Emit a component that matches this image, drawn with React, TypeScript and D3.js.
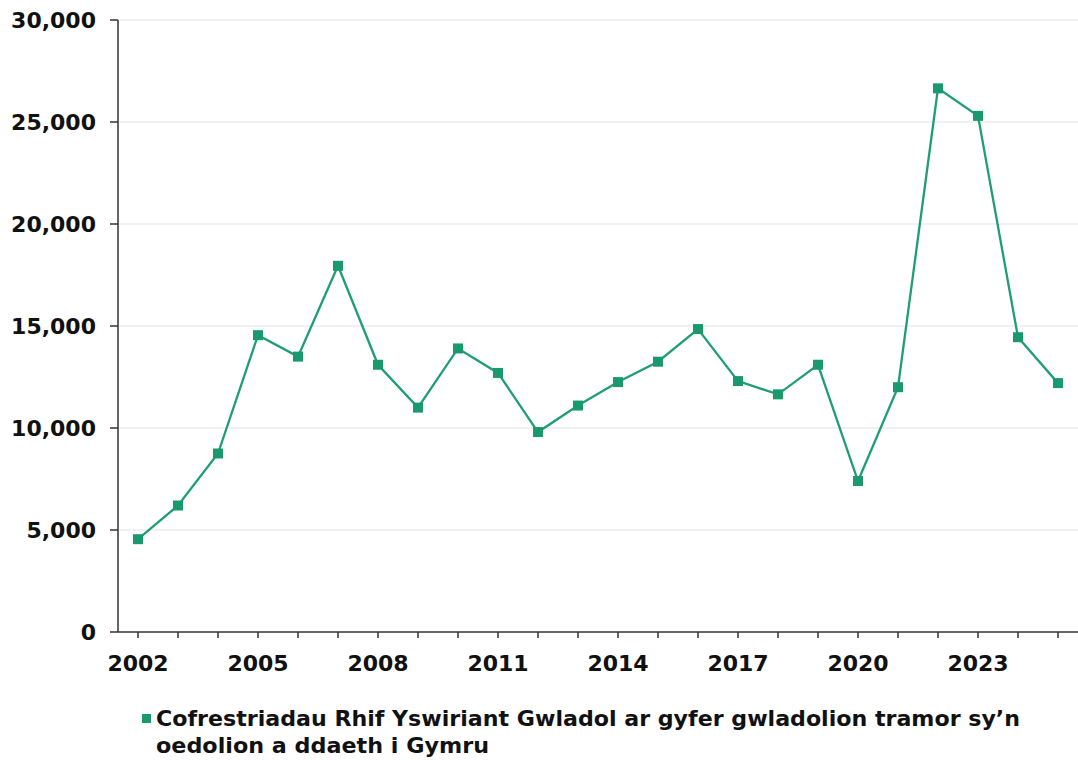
import React from "react";
import * as d3 from "d3";

const years = [
  2002, 2003, 2004, 2005, 2006, 2007, 2008, 2009, 2010, 2011, 2012, 2013,
  2014, 2015, 2016, 2017, 2018, 2019, 2020, 2021, 2022, 2023, 2024, 2025,
];
const registrations = [
  4550, 6200, 8750, 14550, 13500, 17950, 13100, 11000, 13900, 12700, 9800,
  11100, 12250, 13250, 14850, 12300, 11650, 13100, 7400, 12000, 26650, 25300,
  14450, 12200,
];
const yTicks = [0, 5000, 10000, 15000, 20000, 25000, 30000];
const xLabelYears = [2002, 2005, 2008, 2011, 2014, 2017, 2020, 2023];
const legendLines = [
  "Cofrestriadau Rhif Yswiriant Gwladol ar gyfer gwladolion tramor sy’n",
  "oedolion a ddaeth i Gymru",
];
const legendWidths = [864, 333];

const W = 1078;
const H = 760;
const left = 118;
const right = 1078;
const top = 20;
const bottom = 632;
const FONT = "'DejaVu Sans', sans-serif";
const GREEN = "#1f9e72";
const MARK = "#1a9a6c";

export default function App() {
  const x = d3
    .scalePoint<number>()
    .domain(years)
    .range([left, right])
    .padding(0.5);
  const y = d3.scaleLinear().domain([0, 30000]).range([bottom, top]);
  const line = d3
    .line<number>()
    .x((_, i) => x(years[i]) as number)
    .y((d) => y(d));
  const fmt = d3.format(",");

  return (
    <svg
      width={W}
      height={H}
      style={{ position: "absolute", left: 0, top: 0, background: "#fff" }}
    >
      {yTicks.map((t) => (
        <g key={t}>
          {t > 0 && (
            <line
              x1={left}
              x2={right}
              y1={y(t)}
              y2={y(t)}
              stroke="#e3e3e3"
              strokeWidth={1.2}
            />
          )}
          <line x1={left - 8} x2={left} y1={y(t)} y2={y(t)} stroke="#333" strokeWidth={1.5} />
          <text
            x={96}
            y={y(t)}
            dy="0.36em"
            textAnchor="end"
            fontFamily={FONT}
            fontWeight="bold"
            fontSize={22}
            fill="#111"
          >
            {fmt(t)}
          </text>
        </g>
      ))}
      <line x1={left} x2={left} y1={top} y2={bottom} stroke="#333" strokeWidth={1.5} />
      <line x1={left} x2={right} y1={bottom} y2={bottom} stroke="#333" strokeWidth={1.5} />
      {years.map((yr) => (
        <line
          key={yr}
          x1={x(yr)}
          x2={x(yr)}
          y1={bottom}
          y2={bottom + 6}
          stroke="#333"
          strokeWidth={1.5}
        />
      ))}
      {xLabelYears.map((yr) => (
        <text
          key={yr}
          x={x(yr)}
          y={671}
          textAnchor="middle"
          fontFamily={FONT}
          fontWeight="bold"
          fontSize={22}
          fill="#111"
        >
          {yr}
        </text>
      ))}
      <path d={line(registrations) || ""} fill="none" stroke={GREEN} strokeWidth={2.3} />
      {registrations.map((v, i) => (
        <rect
          key={i}
          x={(x(years[i]) as number) - 5}
          y={y(v) - 5}
          width={10}
          height={10}
          fill={MARK}
        />
      ))}
      <rect x={142} y={714} width={9} height={9} fill={MARK} />
      {legendLines.map((l, i) => (
        <text
          key={i}
          x={156}
          y={726 + i * 27}
          fontFamily={FONT}
          fontWeight="bold"
          fontSize={22}
          fill="#111"
          textLength={legendWidths[i]}
          lengthAdjust="spacingAndGlyphs"
        >
          {l}
        </text>
      ))}
    </svg>
  );
}
